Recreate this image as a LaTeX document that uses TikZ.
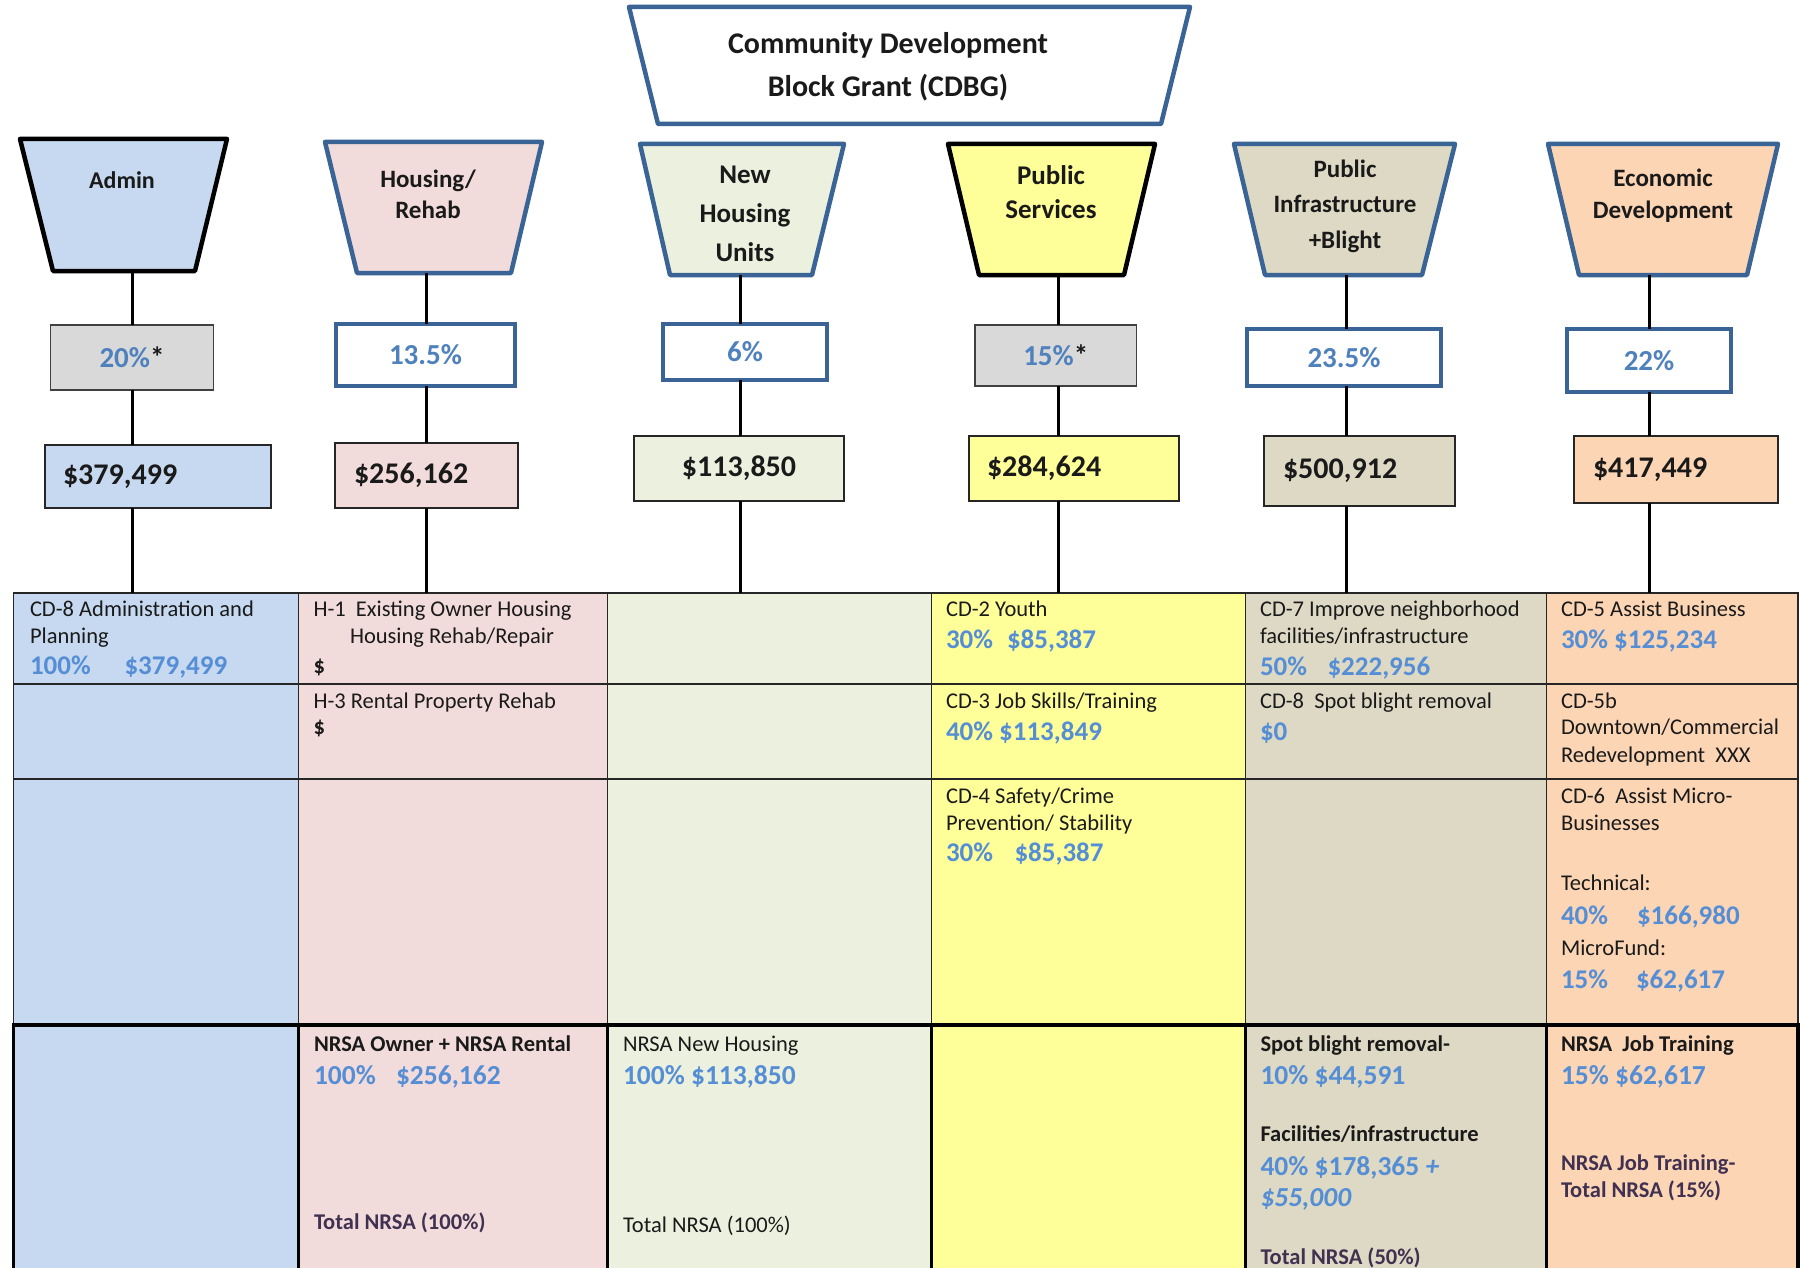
\documentclass[tikz,border=0pt]{standalone}
\usepackage{fontspec}
\setmainfont{Carlito}
\definecolor{cAdmin}{HTML}{C6D9F1}
\definecolor{cHous}{HTML}{F2DCDB}
\definecolor{cNewH}{HTML}{EBF1DE}
\definecolor{cPS}{HTML}{FFFF99}
\definecolor{cInfra}{HTML}{DDD9C4}
\definecolor{cEcon}{HTML}{FCD5B5}
\definecolor{bdrblue}{HTML}{3B6496}
\definecolor{amtblue}{HTML}{558ED5}
\definecolor{pctblue}{HTML}{4F81BD}
\definecolor{purp}{HTML}{403151}
\definecolor{pctgray}{HTML}{D9D9D9}
\definecolor{txtblack}{HTML}{1A1A1A}
\newcounter{tn}
\newcommand\fs[2]{\fontsize{#1}{#2}\selectfont}
\newcommand\tline[4]{\stepcounter{tn}\node[#1, anchor=base west] (t\arabic{tn}) at (#2,#3) {#4};}
\newcommand\mkcell[7]{\node[#7, fill=#6, minimum width=#4pt, minimum height=#5pt, anchor=north west] (#1) at (#2,#3) {};}
\tikzset{
  every node/.style={inner sep=0pt, outer sep=0pt},
  hdrblue/.style={draw=bdrblue, line width=4.5pt, line join=round},
  hdrblack/.style={draw=black, line width=4.5pt, line join=round},
  hdrtext/.style={align=center, text=txtblack},
  pctg/.style={draw=black!75, line width=1.8pt, fill=pctgray, font=\bfseries\fs{29}{34}, text=txtblack},
  pctb/.style={draw=bdrblue, line width=3.5pt, fill=white, font=\bfseries\fs{29}{34}, text=pctblue},
  moneyb/.style={draw=black!85, line width=1.8pt, font=\bfseries\fs{30}{36}, text=txtblack, align=left},
  conn/.style={draw=black, line width=3pt},
  cellbox/.style={draw=black!85, line width=1.8pt},
  cellboxb/.style={draw=black, line width=3.5pt},
  ct/.style={font=\fs{22.5}{27}, text=txtblack, yshift=-7pt},
  bb/.style={font=\bfseries\fs{22.5}{27}, text=txtblack, yshift=-7pt},
  pb/.style={font=\bfseries\fs{22.5}{27}, text=purp, yshift=-7pt},
  cb/.style={font=\bfseries\fs{27}{32}, text=amtblue, yshift=-8.7pt},
  cr/.style={font=\bfseries\fs{27.5}{33}, text=amtblue, yshift=-9pt},
}
\begin{document}
\begin{tikzpicture}[x=1pt,y=-1pt]
\useasboundingbox[fill=white] (0,0) rectangle (1801,1268);

% ---------- table cells ----------
\mkcell{a1}{13.5}{593}{285}{91}{cAdmin}{cellbox}
\mkcell{h1}{298.5}{593}{309}{91}{cHous}{cellbox}
\mkcell{n1}{607.5}{593}{324}{91}{cNewH}{cellbox}
\mkcell{p1}{931.5}{593}{314}{91}{cPS}{cellbox}
\mkcell{i1}{1245.5}{593}{301}{91}{cInfra}{cellbox}
\mkcell{e1}{1546.5}{593}{251.5}{91}{cEcon}{cellbox}
\mkcell{a2}{13.5}{684}{285}{95}{cAdmin}{cellbox}
\mkcell{h2}{298.5}{684}{309}{95}{cHous}{cellbox}
\mkcell{n2}{607.5}{684}{324}{95}{cNewH}{cellbox}
\mkcell{p2}{931.5}{684}{314}{95}{cPS}{cellbox}
\mkcell{i2}{1245.5}{684}{301}{95}{cInfra}{cellbox}
\mkcell{e2}{1546.5}{684}{251.5}{95}{cEcon}{cellbox}
\mkcell{a3}{13.5}{779}{285}{246}{cAdmin}{cellbox}
\mkcell{h3}{298.5}{779}{309}{246}{cHous}{cellbox}
\mkcell{n3}{607.5}{779}{324}{246}{cNewH}{cellbox}
\mkcell{p3}{931.5}{779}{314}{246}{cPS}{cellbox}
\mkcell{i3}{1245.5}{779}{301}{246}{cInfra}{cellbox}
\mkcell{e3}{1546.5}{779}{251.5}{246}{cEcon}{cellbox}
\mkcell{a4}{13.5}{1025}{285}{270}{cAdmin}{cellboxb}
\mkcell{h4}{298.5}{1025}{309}{270}{cHous}{cellboxb}
\mkcell{n4}{607.5}{1025}{324}{270}{cNewH}{cellboxb}
\mkcell{p4}{931.5}{1025}{314}{270}{cPS}{cellboxb}
\mkcell{i4}{1245.5}{1025}{301}{270}{cInfra}{cellboxb}
\mkcell{e4}{1546.5}{1025}{251.5}{270}{cEcon}{cellboxb}
\draw[line width=4.5pt] (a4.north west) -- (e4.north east);

% ---------- top CDBG ----------
\draw[hdrblue, fill=white] (629,7) -- (1190,7) -- (1161,124) -- (658,124) -- cycle;
\node[hdrtext, font=\bfseries\fs{30}{43}] (cdbg) at (888,67) {Community Development\\Block Grant (CDBG)};

% ---------- column headers ----------
\draw[hdrblack, fill=cAdmin] (20,139) -- (227,139) -- (195,271) -- (53,271) -- cycle;
\node[hdrtext, font=\bfseries\fs{24}{30}] (adminL) at (122,180) {Admin};
\coordinate (adminHb) at (132.5,271);

\draw[hdrblue, fill=cHous] (325,142) -- (542,142) -- (511,273) -- (357,273) -- cycle;
\node[hdrtext, font=\bfseries\fs{25}{31}] (housL) at (428,194.5) {Housing/\\Rehab};
\coordinate (housHb) at (426.5,273);

\draw[hdrblue, fill=cNewH] (640,144) -- (844,144) -- (812,275) -- (670,275) -- cycle;
\node[hdrtext, font=\bfseries\fs{27}{39}] (newhL) at (745,214) {New\\Housing\\Units};
\coordinate (newhHb) at (740,275);

\draw[hdrblack, fill=cPS] (948,144) -- (1155,144) -- (1124,275) -- (979,275) -- cycle;
\node[hdrtext, font=\bfseries\fs{27}{34}] (psL) at (1051,192) {Public\\Services};
\coordinate (psHb) at (1058,275);

\draw[hdrblue, fill=cInfra] (1234,144) -- (1455,144) -- (1422,275) -- (1265,275) -- cycle;
\node[hdrtext, font=\bfseries\fs{25}{35.5}] (infraL) at (1345,206) {Public\\Infrastructure\\+Blight};
\coordinate (infraHb) at (1346,275);

\draw[hdrblue, fill=cEcon] (1548,144) -- (1778,144) -- (1747,275) -- (1579,275) -- cycle;
\node[hdrtext, font=\bfseries\fs{25}{32}] (econL) at (1663,196) {Economic\\Development};
\coordinate (econHb) at (1649,275);

% ---------- percent boxes ----------
\node[pctg, minimum width=163pt, minimum height=65pt] (adminP) at (132,357.5) {\textcolor{pctblue}{20\%}*};
\node[pctb, minimum width=179pt, minimum height=62pt] (housP) at (425.5,355) {13.5\%};
\node[pctb, minimum width=164pt, minimum height=56pt] (newhP) at (745,352) {6\%};
\node[pctg, minimum width=161.5pt, minimum height=61pt] (psP) at (1055.75,355.5) {\textcolor{pctblue}{15\%}*};
\node[pctb, minimum width=194pt, minimum height=57pt] (infraP) at (1344,357.5) {23.5\%};
\node[pctb, minimum width=164pt, minimum height=63pt] (econP) at (1649,360.5) {22\%};

% ---------- money boxes ----------
\node[moneyb, fill=cAdmin, minimum width=226pt, minimum height=63pt, inner xsep=18pt, text width=190pt] (adminM) at (158,476.5) {\$379,499};
\node[moneyb, fill=cHous, minimum width=183pt, minimum height=65pt, inner xsep=19pt, text width=145pt] (housM) at (426.5,475.5) {\$256,162};
\node[moneyb, fill=cNewH, minimum width=210pt, minimum height=65pt, inner xsep=18pt, text width=174pt, align=center] (newhM) at (739,468.5) {\$113,850};
\node[moneyb, fill=cPS, minimum width=210pt, minimum height=65pt, inner xsep=18pt, text width=174pt] (psM) at (1074,468.5) {\$284,624};
\node[moneyb, fill=cInfra, minimum width=191pt, minimum height=70pt, inner xsep=19pt, text width=153pt] (infraM) at (1359.5,471) {\$500,912};
\node[moneyb, fill=cEcon, minimum width=204pt, minimum height=67pt, inner xsep=19pt, text width=166pt] (econM) at (1676,469.5) {\$417,449};

% ---------- connectors ----------
\foreach \c/\t in {admin/a1, hous/h1, newh/n1, ps/p1, infra/i1, econ/e1}{
  \draw[conn] (\c Hb) -- (\c Hb |- \c P.north);
  \draw[conn] (\c Hb |- \c P.south) -- (\c Hb |- \c M.north);
  \draw[conn] (\c Hb |- \c M.south) -- (\c Hb |- \t.north);
}

% ---------- cell texts ----------
\tline{ct}{30}{609}{CD-8 Administration and}
\tline{ct}{30}{636}{Planning}
\tline{cb}{30}{666}{100\%}
\tline{cb}{124.5}{666}{\$379,499}

\tline{ct}{313.5}{609}{H-1\ \ Existing Owner Housing}
\tline{ct}{350}{636}{Housing Rehab/Repair}
\tline{bb}{313.5}{666}{\$}
\tline{ct}{313.5}{701}{H-3 Rental Property Rehab}
\tline{bb}{313.5}{727}{\$}

\tline{ct}{946}{609}{CD-2 Youth}
\tline{cb}{946}{640}{30\%}
\tline{cb}{1007}{640}{\$85,387}
\tline{ct}{946}{701}{CD-3 Job Skills/Training}
\tline{cb}{946}{732}{40\% \$113,849}
\tline{ct}{946}{796}{CD-4 Safety/Crime}
\tline{ct}{946}{823}{Prevention/ Stability}
\tline{cb}{946}{853}{30\%}
\tline{cb}{1014.5}{853}{\$85,387}

\tline{ct}{1260}{609}{CD-7 Improve neighborhood}
\tline{ct}{1260}{636}{facilities/infrastructure}
\tline{cb}{1260}{667}{50\%}
\tline{cb}{1327.5}{667}{\$222,956}
\tline{ct}{1260}{701}{CD-8\ \ Spot blight removal}
\tline{cb}{1260}{732}{\$0}

\tline{ct}{1561}{609}{CD-5 Assist Business}
\tline{cb}{1561}{640}{30\% \$125,234}
\tline{ct}{1561}{701}{CD-5b}
\tline{ct}{1561}{727}{Downtown/Commercial}
\tline{ct}{1561}{755}{Redevelopment\ \ XXX}
\tline{ct}{1561}{796}{CD-6\ \ Assist Micro-}
\tline{ct}{1561}{823}{Businesses}
\tline{ct}{1561}{883}{Technical:}
\tline{cb}{1561}{916}{40\%}
\tline{cb}{1637}{916}{\$166,980}
\tline{ct}{1561}{948}{MicroFund:}
\tline{cb}{1561}{980}{15\%}
\tline{cb}{1636}{980}{\$62,617}

% bottom row
\tline{bb}{314}{1044}{NRSA Owner + NRSA Rental}
\tline{cr}{314}{1075}{100\%}
\tline{cr}{396}{1075}{\$256,162}
\tline{pb}{314}{1222}{Total NRSA (100\%)}

\tline{ct}{623}{1044}{NRSA New Housing}
\tline{cr}{623}{1075}{100\% \$113,850}
\tline{ct}{623}{1225}{Total NRSA (100\%)}

\tline{bb}{1260.5}{1044}{Spot blight removal-}
\tline{cr}{1260.5}{1075}{10\% \$44,591}
\tline{bb}{1260.5}{1134}{Facilities/infrastructure}
\tline{cr}{1260.5}{1166}{40\% \$178,365 \textit{+}}
\tline{cr}{1260.5}{1197}{\textit{\$55,000}}
\tline{pb}{1260.5}{1257}{Total NRSA (50\%)}

\tline{bb}{1561}{1044}{NRSA\ \ Job Training}
\tline{cr}{1561}{1075}{15\% \$62,617}
\tline{pb}{1561}{1163}{NRSA Job Training-}
\tline{pb}{1561}{1190}{Total NRSA (15\%)}
\end{tikzpicture}
\end{document}
